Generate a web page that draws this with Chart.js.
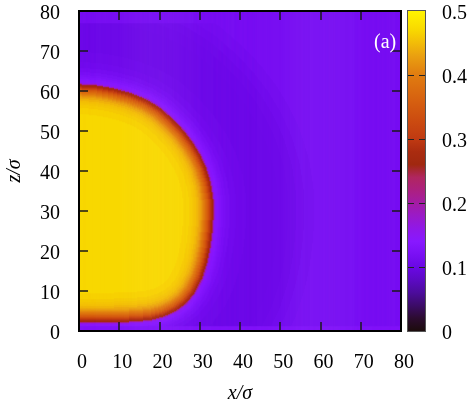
<!DOCTYPE html>
<html>
<head>
<meta charset="utf-8">
<script src="https://cdn.jsdelivr.net/npm/chart.js@4.4.1/dist/chart.umd.min.js"></script>
<style>
  html, body { margin: 0; padding: 0; background: #fff; }
  #wrap { width: 475px; height: 408px; }
</style>
</head>
<body>
<div id="wrap"><canvas id="mapa" width="475" height="408"></canvas></div>
<script>
// Ejes y barra de color
const xTicks = [0, 10, 20, 30, 40, 50, 60, 70, 80];
const zTicks = [0, 10, 20, 30, 40, 50, 60, 70, 80];
const cbTicks = [0, 0.1, 0.2, 0.3, 0.4, 0.5];
const cbTickLabels = ['0', '0.1', '0.2', '0.3', '0.4', '0.5'];

// Linea media de la interfase de la gota (x/sigma, z/sigma)
const contourX = [0, 8, 14, 18, 21, 24, 26.5, 28.5, 30.3, 31.5, 32.3, 32.8, 33.1, 33.0, 32.4, 31.2, 29.8, 28.0, 25.7, 22.8, 20.0, 16.8, 12.6, 8.5, 4.5, 0];
const contourZ = [2.6, 2.6, 2.8, 3.2, 4.0, 5.4, 7.3, 9.8, 13.3, 17, 21, 25, 29, 33, 37, 41, 44, 47, 50, 53, 55.5, 57.5, 59.2, 60.3, 61.0, 61.3];

// Perfil de densidad segun distancia a la interfase (negativo = dentro)
const profileD   = [-8, -6, -5, -4.5, -4, -3.5, -3, -2.75, -2.5, -2.25, -2, -1.75, -1.5, -1.25, -1, -0.75, -0.5, -0.25, 0, 0.25, 0.5, 0.75, 1, 1.5, 2, 2.5, 3, 4, 5, 7, 10, 15, 18, 20, 22, 24, 27, 32];
const profileRho = [0.47, 0.465, 0.46, 0.456, 0.452, 0.445, 0.435, 0.428, 0.42, 0.41, 0.40, 0.388, 0.375, 0.362, 0.35, 0.33, 0.31, 0.292, 0.28, 0.27, 0.20, 0.155, 0.145, 0.138, 0.132, 0.127, 0.122, 0.116, 0.111, 0.107, 0.105, 0.105, 0.106, 0.108, 0.111, 0.114, 0.117, 0.118];

// Capas junto a las paredes
const bottomLayerZ = 1.3, bottomLayerRho = 0.128;
const topLayerZ = 77, topLayerRho = 0.117;

// Paleta
const paletteValues = [0, 0.02, 0.04, 0.06, 0.08, 0.10, 0.12, 0.14, 0.16, 0.18, 0.20, 0.22, 0.24, 0.26, 0.28, 0.30, 0.33, 0.36, 0.40, 0.43, 0.45, 0.47, 0.50];
const paletteColors = ['#1c0c0c', '#2c0c30', '#3c0c68', '#4c0c9c', '#5c0ac4', '#6a08e4', '#7a10f4', '#8818ff', '#9018e8', '#9a1ac8', '#a41ca4', '#ac2080', '#b02660', '#a02810', '#aa2c10', '#c03a12', '#cc4c10', '#d66010', '#e07c10', '#eaa010', '#f2bc08', '#f8d800', '#fff400'];

const cellSize = 0.25;

function dentroGota(px, pz) {
    let dentro = false;
    for (let i = 0, j = contourX.length - 1; i < contourX.length; j = i++) {
        const xi = contourX[i], zi = contourZ[i], xj = contourX[j], zj = contourZ[j];
        if ((zi > pz) !== (zj > pz) && px < (xj - xi) * (pz - zi) / (zj - zi) + xi) dentro = !dentro;
    }
    return dentro;
}

function distanciaContorno(px, pz) {
    let mejor = Infinity;
    for (let i = 0; i < contourX.length - 1; i++) {
        const ax = contourX[i], az = contourZ[i], bx = contourX[i + 1], bz = contourZ[i + 1];
        const dx = bx - ax, dz = bz - az;
        let t = ((px - ax) * dx + (pz - az) * dz) / (dx * dx + dz * dz);
        t = Math.max(0, Math.min(1, t));
        mejor = Math.min(mejor, Math.hypot(ax + t * dx - px, az + t * dz - pz));
    }
    return mejor;
}

function masCercano(claves, valores, v) {
    let k = 0;
    for (let i = 1; i < claves.length; i++) {
        if (Math.abs(claves[i] - v) < Math.abs(claves[k] - v)) k = i;
    }
    return valores[k];
}

function densidad(px, pz) {
    if (pz < bottomLayerZ) return bottomLayerRho;
    if (pz > topLayerZ) return topLayerRho;
    const d = distanciaContorno(px, pz) * (dentroGota(px, pz) ? -1 : 1);
    return masCercano(profileD, profileRho, d);
}

function hexRgb(h) {
    return [parseInt(h.slice(1, 3), 16), parseInt(h.slice(3, 5), 16), parseInt(h.slice(5, 7), 16)];
}
const paletteRgb = paletteColors.map(hexRgb);

function colorDe(rho) {
    let i = 0;
    while (i < paletteValues.length - 2 && rho > paletteValues[i + 1]) i++;
    const t = Math.max(0, Math.min(1, (rho - paletteValues[i]) / (paletteValues[i + 1] - paletteValues[i])));
    const a = paletteRgb[i], b = paletteRgb[i + 1];
    return `rgb(${Math.round(a[0] + (b[0] - a[0]) * t)},${Math.round(a[1] + (b[1] - a[1]) * t)},${Math.round(a[2] + (b[2] - a[2]) * t)})`;
}

const celdas = [];
const coloresCeldas = [];
const nCeldas = Math.round(80 / cellSize);
for (let i = 0; i < nCeldas; i++) {
    for (let j = 0; j < nCeldas; j++) {
        const cx = (i + 0.5) * cellSize, cz = (j + 0.5) * cellSize;
        celdas.push({ x: cx, y: cz });
        coloresCeldas.push(colorDe(densidad(cx, cz)));
    }
}

const FAMILIA = '"Liberation Serif", "DejaVu Serif", serif';

// Marco, marcas, rotulos, barra de color y etiqueta (a)
const pluginMarco = {
    id: 'pluginMarco',
    afterDatasetsDraw(chart) {
        const { ctx, chartArea: a, scales: { x, y, cb } } = chart;
        ctx.save();

        ctx.strokeStyle = '#1a1a1a';
        ctx.lineWidth = 1.5;
        ctx.beginPath();
        xTicks.slice(1, -1).forEach(v => {
            const px = Math.round(x.getPixelForValue(v));
            ctx.moveTo(px, a.bottom); ctx.lineTo(px, a.bottom - 9);
            ctx.moveTo(px, a.top); ctx.lineTo(px, a.top + 9);
        });
        zTicks.slice(1, -1).forEach(v => {
            const py = Math.round(y.getPixelForValue(v));
            ctx.moveTo(a.left, py); ctx.lineTo(a.left + 9, py);
            ctx.moveTo(a.right, py); ctx.lineTo(a.right - 9, py);
        });
        ctx.stroke();

        ctx.strokeStyle = '#000';
        ctx.lineWidth = 2;
        ctx.strokeRect(a.left, a.top, a.right - a.left, a.bottom - a.top);

        // barra de color
        const x0 = a.right + 7, x1 = a.right + 24;
        const yTop = cb.getPixelForValue(0.5), yBot = cb.getPixelForValue(0);
        const grad = ctx.createLinearGradient(0, yBot, 0, yTop);
        paletteValues.forEach((v, i) => grad.addColorStop((cb.getPixelForValue(v) - yBot) / (yTop - yBot), paletteColors[i]));
        ctx.fillStyle = grad;
        ctx.fillRect(x0, yTop, x1 - x0, yBot - yTop);
        ctx.strokeStyle = '#555';
        ctx.lineWidth = 1;
        ctx.strokeRect(x0 - 0.5, yTop - 0.5, x1 - x0 + 1, yBot - yTop + 1);

        ctx.strokeStyle = '#222';
        ctx.setLineDash([6, 5]);
        ctx.beginPath();
        cbTicks.slice(1, -1).forEach(v => {
            const py = Math.round(cb.getPixelForValue(v)) + 0.5;
            ctx.moveTo(x0, py); ctx.lineTo(x1, py);
        });
        ctx.stroke();
        ctx.setLineDash([]);

        // rotulos de los ejes
        ctx.fillStyle = '#000';
        ctx.font = `20px ${FAMILIA}`;
        ctx.textBaseline = 'alphabetic';
        ctx.textAlign = 'center';
        xTicks.forEach(v => ctx.fillText(String(v), x.getPixelForValue(v) + 3, a.bottom + 37));
        ctx.textAlign = 'right';
        zTicks.forEach(v => ctx.fillText(String(v), a.left - 19, y.getPixelForValue(v) + 7.5));
        ctx.textAlign = 'left';
        cbTicks.forEach((v, i) => ctx.fillText(cbTickLabels[i], a.right + 41, cb.getPixelForValue(v) + 7.5));

        ctx.font = `italic 20px ${FAMILIA}`;
        ctx.textAlign = 'center';
        ctx.fillText('x/σ', (a.left + a.right) / 2, a.bottom + 68);
        ctx.save();
        ctx.translate(20, (a.top + a.bottom) / 2);
        ctx.rotate(-Math.PI / 2);
        ctx.fillText('z/σ', 0, 0);
        ctx.restore();

        ctx.fillStyle = '#fff';
        ctx.font = `20px ${FAMILIA}`;
        ctx.textAlign = 'right';
        ctx.textBaseline = 'middle';
        ctx.fillText('(a)', x.getPixelForValue(78.8), y.getPixelForValue(72));
        ctx.restore();
    }
};

new Chart(document.getElementById('mapa').getContext('2d'), {
    type: 'scatter',
    data: {
        datasets: [{
            data: celdas,
            backgroundColor: coloresCeldas,
            pointStyle: 'rect',
            pointRadius: 1.05,
            pointHoverRadius: 1.05,
            borderWidth: 0,
            clip: 0
        }]
    },
    options: {
        responsive: false,
        animation: false,
        events: [],
        layout: { padding: { top: 11, left: 79, right: 74, bottom: 77 } },
        plugins: { legend: { display: false }, tooltip: { enabled: false } },
        scales: {
            x: { type: 'linear', min: 0, max: 80, display: false },
            y: { type: 'linear', position: 'left', min: 0, max: 80, display: false },
            cb: { type: 'linear', position: 'right', min: 0, max: 0.5, display: false }
        }
    },
    plugins: [pluginMarco]
});
</script>
</body>
</html>
